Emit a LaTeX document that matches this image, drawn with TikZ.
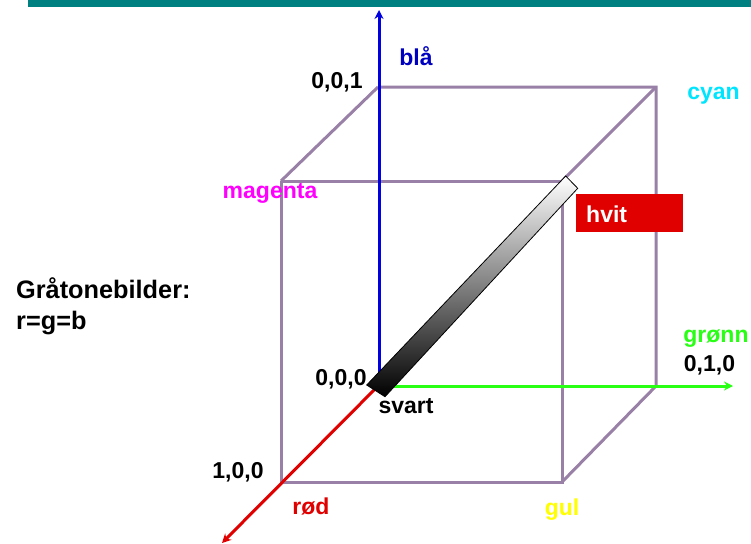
\documentclass[tikz,border=0pt]{standalone}
\usepackage{fontspec}
\setmainfont{Liberation Sans}
\usepackage{xcolor}
\usetikzlibrary{arrows.meta}
\definecolor{teal bar}{RGB}{0,128,128}
\definecolor{cubeline}{RGB}{153,128,166}
\definecolor{bluaxis}{RGB}{0,0,224}
\definecolor{greenaxis}{RGB}{40,255,20}
\definecolor{redaxis}{RGB}{224,0,0}
\definecolor{blalabel}{RGB}{0,0,192}
\definecolor{cyanlabel}{RGB}{0,229,255}
\definecolor{magentalabel}{RGB}{255,0,255}
\definecolor{gronnlabel}{RGB}{40,255,20}
\definecolor{gullabel}{RGB}{255,255,0}
\tikzset{
  lbl/.style={font=\fontsize{23}{27}\selectfont\bfseries, inner sep=0pt, anchor=base},
  biglbl/.style={font=\fontsize{25.3}{30}\selectfont\bfseries, inner sep=0pt, anchor=base west},
  cube edge/.style={draw=cubeline, line width=3pt},
  axis/.style={-{Stealth[length=9pt,width=9pt]}, line width=3pt},
}
\begin{document}
\begin{tikzpicture}[x=1pt, y=-1pt]
  \useasboundingbox (0,0) rectangle (751,543);
  \fill[teal bar] (28,0) rectangle (751,7);

  \coordinate (B000) at (378,386);
  \coordinate (B100) at (281,482);
  \coordinate (B010) at (656,386);
  \coordinate (B110) at (562,482);
  \coordinate (B001) at (378,87);
  \coordinate (B101) at (281,181);
  \coordinate (B011) at (656,87);
  \coordinate (B111) at (562,181);
  \coordinate (BLUE) at (379,10);
  \coordinate (GREEN) at (733,386);
  \coordinate (RED) at (222,543);
  \coordinate (BARA) at (366.7,385);
  \coordinate (BARB) at (385,396.7);
  \coordinate (BARC) at (577.7,188.3);
  \coordinate (BARD) at (565.7,176);

  \draw[cube edge] (B101) -- (B111) -- (B110) -- (B100) -- (B101);
  \draw[cube edge] (B001) -- (B011) -- (B010) -- (B110);
  \draw[cube edge] (B001) -- (B101);
  \draw[cube edge] (B011) -- (B111);

  \draw[axis, bluaxis] (B000) ++(1,0) -- (BLUE);
  \draw[axis, greenaxis] (B000) -- (GREEN);
  \draw[axis, redaxis] (B000) -- (RED);

  \draw[black, line width=0.8pt, top color=white, middle color=black!35, bottom color=black]
    (BARA) -- (BARB) -- (BARC) -- (BARD) -- cycle;

  \node[fill=redaxis, minimum width=107pt, minimum height=38pt, inner sep=0pt] (HVIT) at (629.5,213) {};
  \node[lbl, white, anchor=base west] (HVITTXT) at (586,222) {hvit};

  \node[lbl, blalabel] (BLA) at (416,66) {blå};
  \node[lbl] (L001) at (337,88.8) {0,0,1};
  \node[lbl, cyanlabel] (CYAN) at (713.5,99.3) {cyan};
  \node[lbl, magentalabel] (MAGENTA) at (270,198.2) {magenta};
  \node[biglbl] (GRAA) at (16,298) {Gråtonebilder:};
  \node[biglbl] (RGB) at (16,329) {r=g=b};
  \node[lbl, gronnlabel] (GRONN) at (716,342.7) {grønn};
  \node[lbl] (L010) at (709.5,371.7) {0,1,0};
  \node[lbl] (L000) at (341,385) {0,0,0};
  \node[lbl] (SVART) at (406,413.2) {svart};
  \node[lbl] (L100) at (238,478.8) {1,0,0};
  \node[lbl, redaxis] (ROD) at (311,514.5) {rød};
  \node[lbl, gullabel] (GUL) at (562,515) {gul};
\end{tikzpicture}
\end{document}
